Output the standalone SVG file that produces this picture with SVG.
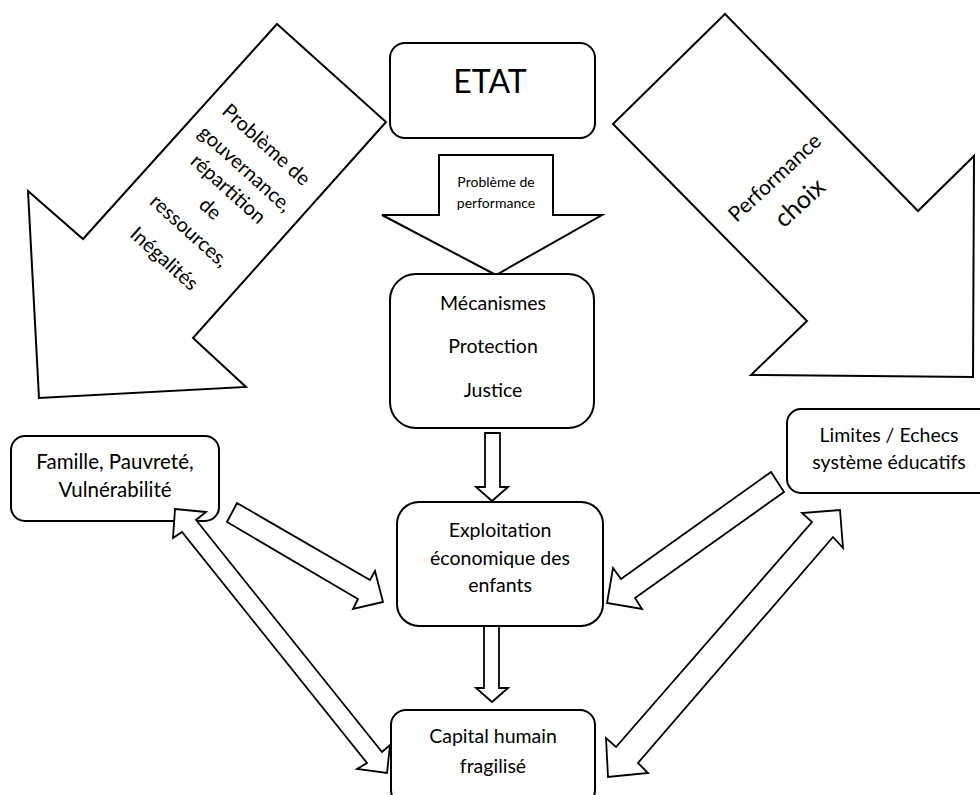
<svg xmlns="http://www.w3.org/2000/svg" width="980" height="795" viewBox="0 0 980 795">
<style>
  .shape { fill: #ffffff; stroke: #000000; stroke-width: 2; stroke-linejoin: miter; }
  .box { fill: #ffffff; stroke: #000000; stroke-width: 2; }
  .conn { fill: #ffffff; stroke: #000000; stroke-width: 1.8; stroke-linejoin: miter; }
  text { font-family: Lato, "Open Sans", "Liberation Sans", sans-serif; fill: #000000; text-anchor: middle; }
  .t { font-size: 19.5px; }
  .small { font-size: 14px; }
  .big { font-size: 32px; }
  .rot { font-size: 20px; }
</style>
<rect x="0" y="0" width="980" height="795" fill="#ffffff"/>

<g id="arrow-gouvernance">
  <polygon class="shape" points="277,24 386,122 193,338 246,387 39,398 28,191 83,239"/>
  <text class="rot" transform="translate(266,145) rotate(42)" dy="0.32em">Problème de</text>
  <text class="rot" transform="translate(245,169) rotate(42)" dy="0.32em">gouvernance,</text>
  <text class="rot" transform="translate(228,189) rotate(42)" dy="0.32em">répartition</text>
  <text class="rot" transform="translate(210,209) rotate(42)" dy="0.32em">de</text>
  <text class="rot" transform="translate(189,231) rotate(42)" dy="0.32em">ressources,</text>
  <text class="rot" transform="translate(164,259) rotate(42)" dy="0.32em">Inégalités</text>
</g>

<g id="arrow-performance">
  <polygon class="shape" points="725,14 918,211 974,156 973,377 751,375 807,321 613,124"/>
  <text transform="translate(775,178) rotate(-43)" dy="0.32em" style="font-size:21px">Performance</text>
  <text transform="translate(800,203) rotate(-43)" dy="0.32em" style="font-size:25px">choix</text>
</g>

<g id="arrow-probleme-performance">
  <polygon class="shape" points="439,155 553,155 553,215 602,215 496,275 382,215 439,215"/>
  <text class="small" x="496" y="187">Problème de</text>
  <text class="small" x="496" y="208">performance</text>
</g>

<g id="node-etat">
  <rect class="box" x="390" y="43" width="205" height="95" rx="15" ry="15"/>
  <text class="big" x="490" y="93">ETAT</text>
</g>

<g id="node-mecanismes">
  <rect class="box" x="390" y="274" width="204" height="154" rx="26" ry="26"/>
  <text class="t" x="493" y="310">Mécanismes</text>
  <text class="t" x="493" y="353">Protection</text>
  <text class="t" x="493" y="397">Justice</text>
</g>

<g id="node-exploitation">
  <rect class="box" x="397" y="502" width="206" height="124" rx="22" ry="22"/>
  <text class="t" x="500" y="537">Exploitation</text>
  <text class="t" x="500" y="565">économique des</text>
  <text class="t" x="500" y="592">enfants</text>
</g>

<g id="node-capital">
  <rect class="box" x="391" y="710" width="204" height="95" rx="15" ry="15"/>
  <text class="t" x="493" y="743">Capital humain</text>
  <text class="t" x="493" y="773">fragilisé</text>
</g>

<g id="node-famille">
  <rect class="box" x="11" y="436" width="208" height="85" rx="14" ry="14"/>
  <text class="t" x="115" y="469" style="font-size:20.5px">Famille, Pauvreté,</text>
  <text class="t" x="115" y="497" style="font-size:20.5px">Vulnérabilité</text>
</g>

<g id="node-limites">
  <rect class="box" x="787" y="409" width="210" height="84" rx="14" ry="14"/>
  <text class="t" x="889" y="442">Limites / Echecs</text>
  <text class="t" x="889" y="469">système éducatifs</text>
</g>

<g id="connectors">
  <polygon class="conn" points="485,433 500,433 500,487 508,487 492,501 476,487 485,487"/>
  <polygon class="conn" points="484,626 499,626 499,688 508,688 492,702 476,688 484,688"/>
  <polygon class="conn" points="237,503 370,580 375,571 383,602 353,609 358,599 227,522"/>
  <polygon class="conn" points="771,472 784,492 635,598 642,609 607,603 613,568 621,579"/>
  <polygon class="conn" points="175,509 206,512 196,520 382,752 390,745 387,773 357,769 367,763 182,532 173,538"/>
  <polygon class="conn" points="840,510 843,548 833,537 638,763 648,773 608,777 606,738 616,747 812,522 802,513"/>
</g>
</svg>
